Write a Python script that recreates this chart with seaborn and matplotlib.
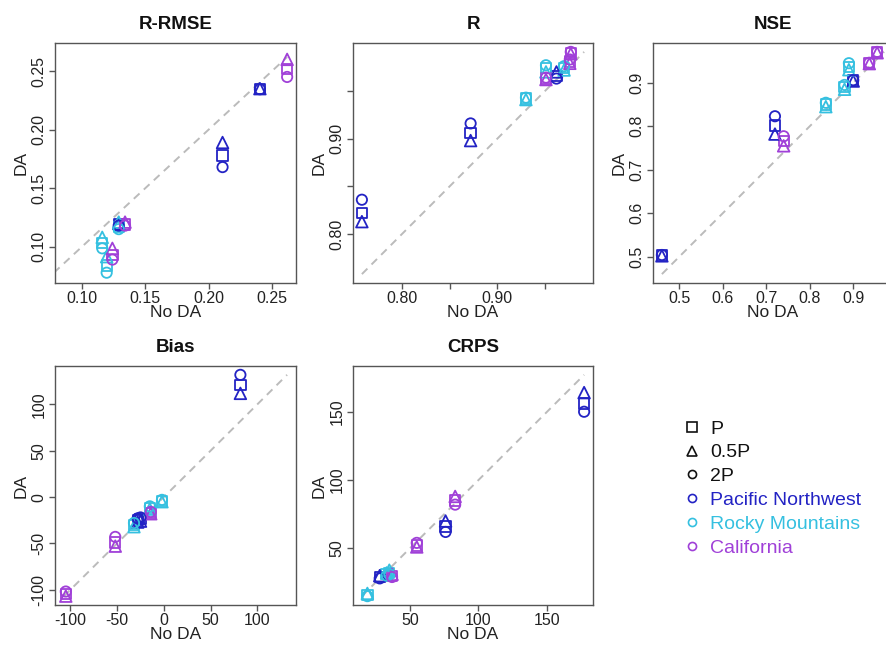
import numpy as np
import pandas as pd
import matplotlib
matplotlib.use("Agg")
import matplotlib.pyplot as plt
import seaborn as sns
from matplotlib.lines import Line2D

sns.set_theme(style="white")
plt.rcParams["font.family"] = ["Liberation Sans", "DejaVu Sans"]

# ---------------- data ----------------
regions = ["Pacific Northwest"] * 3 + ["Rocky Mountains"] * 3 + ["California"] * 3
scenarios = ["P", "0.5P", "2P"]
metrics = ["R-RMSE", "R", "NSE", "Bias", "CRPS"]

rrmse_nodata = [0.129, 0.211, 0.2405, 0.116, 0.1195, 0.129, 0.124, 0.134, 0.262]
rrmse_P      = [0.119, 0.178, 0.2347, 0.103, 0.084, 0.117, 0.093, 0.119, 0.252]
rrmse_05P    = [0.120, 0.189, 0.2350, 0.108, 0.0915, 0.121, 0.0986, 0.121, 0.260]
rrmse_2P     = [0.118, 0.168, 0.2345, 0.0986, 0.0778, 0.115, 0.089, 0.118, 0.245]

r_nodata = [0.758, 0.872, 0.962, 0.930, 0.951, 0.970, 0.951, 0.976, 0.977]
r_P      = [0.822, 0.906, 0.966, 0.942, 0.974, 0.974, 0.963, 0.981, 0.990]
r_05P    = [0.813, 0.898, 0.970, 0.941, 0.970, 0.972, 0.962, 0.979, 0.989]
r_2P     = [0.836, 0.916, 0.963, 0.943, 0.977, 0.976, 0.964, 0.983, 0.991]

nse_nodata = [0.460, 0.720, 0.900, 0.837, 0.880, 0.890, 0.740, 0.937, 0.955]
nse_P      = [0.503, 0.802, 0.905, 0.850, 0.890, 0.937, 0.766, 0.945, 0.970]
nse_05P    = [0.502, 0.782, 0.904, 0.845, 0.885, 0.930, 0.755, 0.944, 0.969]
nse_2P     = [0.504, 0.823, 0.906, 0.854, 0.895, 0.945, 0.777, 0.946, 0.971]

bias_nodata = [-28, -25, 82, -32, -15, -2, -105, -52, -14]
bias_P      = [-25, -24, 121, -30, -12, -4, -105, -49, -17]
bias_05P    = [-27, -26, 112, -32, -13, -5, -107, -53, -18]
bias_2P     = [-23, -22, 132, -28, -10, -3, -102, -43, -16]

crps_nodata = [28, 76, 177, 19, 33, 35, 37, 55, 83]
crps_P      = [29, 66, 156, 16, 31, 32, 30, 52, 85]
crps_05P    = [30, 70, 164, 17, 32, 34, 31, 51, 88]
crps_2P     = [28, 62, 150, 15, 30, 31, 29, 54, 82]

tick_values = {
    "R-RMSE": [0.10, 0.15, 0.20, 0.25],
    "R": [0.80, 0.85, 0.90, 0.95],
    "NSE": [0.5, 0.6, 0.7, 0.8, 0.9],
    "Bias": [-100, -50, 0, 50, 100],
    "CRPS": [50, 100, 150],
}
tick_labels = {
    "R-RMSE": ["0.10", "0.15", "0.20", "0.25"],
    "R": ["0.80", "", "0.90", ""],
    "NSE": ["0.5", "0.6", "0.7", "0.8", "0.9"],
    "Bias": ["-100", "-50", "0", "50", "100"],
    "CRPS": ["50", "100", "150"],
}
# explicit axis limits where the panel does not use the default padded range
axis_limits = {"R-RMSE": ((0.0787, 0.269), (0.069, 0.274))}

series = {
    "R-RMSE": (rrmse_nodata, rrmse_P, rrmse_05P, rrmse_2P),
    "R": (r_nodata, r_P, r_05P, r_2P),
    "NSE": (nse_nodata, nse_P, nse_05P, nse_2P),
    "Bias": (bias_nodata, bias_P, bias_05P, bias_2P),
    "CRPS": (crps_nodata, crps_P, crps_05P, crps_2P),
}

rows = []
for m in metrics:
    nd, p, p05, p2 = series[m]
    for sc, vals in zip(scenarios, (p, p05, p2)):
        for reg, x, y in zip(regions, nd, vals):
            rows.append(dict(metric=m, region=reg, scenario=sc, nodata=x, da=y))
df = pd.DataFrame(rows)

palette = {"Pacific Northwest": "#2323C4", "Rocky Mountains": "#35C0E0", "California": "#A040D8"}
marker_map = {"P": "s", "0.5P": "^", "2P": "o"}
size_map = {"P": 55, "0.5P": 70, "2P": 55}
region_order = ["Pacific Northwest", "Rocky Mountains", "California"]

# axes boxes in pixels: left, top, right, bottom
W, H = 886, 645
boxes = {
    "R-RMSE": (55, 43, 296, 283),
    "R": (353, 43, 593, 283),
    "NSE": (653, 43, 893, 283),
    "Bias": (55, 366, 296, 605),
    "CRPS": (353, 366, 593, 605),
}

fig = plt.figure(figsize=(W / 100, H / 100), dpi=100)
spine_col = "#555555"

for m in metrics:
    l, t, r, b = boxes[m]
    ax = fig.add_axes([l / W, 1 - b / H, (r - l) / W, (b - t) / H])
    sub = df[df.metric == m]
    allv = np.concatenate([sub.nodata.values, sub.da.values])
    lo, hi = allv.min(), allv.max()
    pad = 0.04 * (hi - lo)
    ax.plot([lo, hi], [lo, hi], color="#BBBBBB", ls=(0, (4, 3)), lw=1.4, zorder=1)
    sns.scatterplot(data=sub, x="nodata", y="da", hue="region", style="scenario",
                    size="scenario", sizes=size_map, markers=marker_map,
                    palette=palette, legend=False, ax=ax, zorder=3)
    coll = ax.collections[-1]
    fc = coll.get_facecolors()
    coll.set_edgecolors(fc)
    coll.set_facecolors("none")
    coll.set_linewidths(1.3)
    if m in axis_limits:
        ax.set_xlim(*axis_limits[m][0])
        ax.set_ylim(*axis_limits[m][1])
    else:
        ax.set_xlim(lo - pad, hi + pad)
        ax.set_ylim(lo - pad, hi + pad)
    ax.set_xticks(tick_values[m])
    ax.set_xticklabels(tick_labels[m])
    ax.set_yticks(tick_values[m])
    ax.set_yticklabels(tick_labels[m], rotation=90, va="center")
    ax.tick_params(axis="both", which="major", length=4, width=1, color=spine_col,
                   labelsize=11.5, labelcolor="#222222", pad=2, bottom=True, left=True)
    for sp in ax.spines.values():
        sp.set_color(spine_col)
        sp.set_linewidth(1.0)
    ax.set_xlabel("No DA", fontsize=12.5, labelpad=-1, color="#222222")
    ax.set_ylabel("DA", fontsize=12.5, labelpad=2, color="#222222")
    ax.set_title(m, fontsize=13.5, fontweight="bold", pad=10, color="#111111")

# legend
handles = []
labels = []
for sc in scenarios:
    handles.append(Line2D([], [], ls="none", marker=marker_map[sc], mfc="none",
                          mec="#111111", mew=1.2, ms=6.5 if sc != "2P" else 5.8))
    labels.append(sc)
for reg in region_order:
    handles.append(Line2D([], [], ls="none", marker="o", mfc="none",
                          mec=palette[reg], mew=1.2, ms=5.8))
    labels.append(reg)
leg = fig.legend(handles, labels, loc="upper left",
                 bbox_to_anchor=(683 / W, 1 - 420 / H), frameon=False,
                 fontsize=14, handlelength=0.95, handletextpad=0.45,
                 labelspacing=0.32, borderaxespad=0, borderpad=0,
                 labelcolor=["#111111"] * 3 + [palette[r] for r in region_order])

fig.savefig("out.png", dpi=100)
